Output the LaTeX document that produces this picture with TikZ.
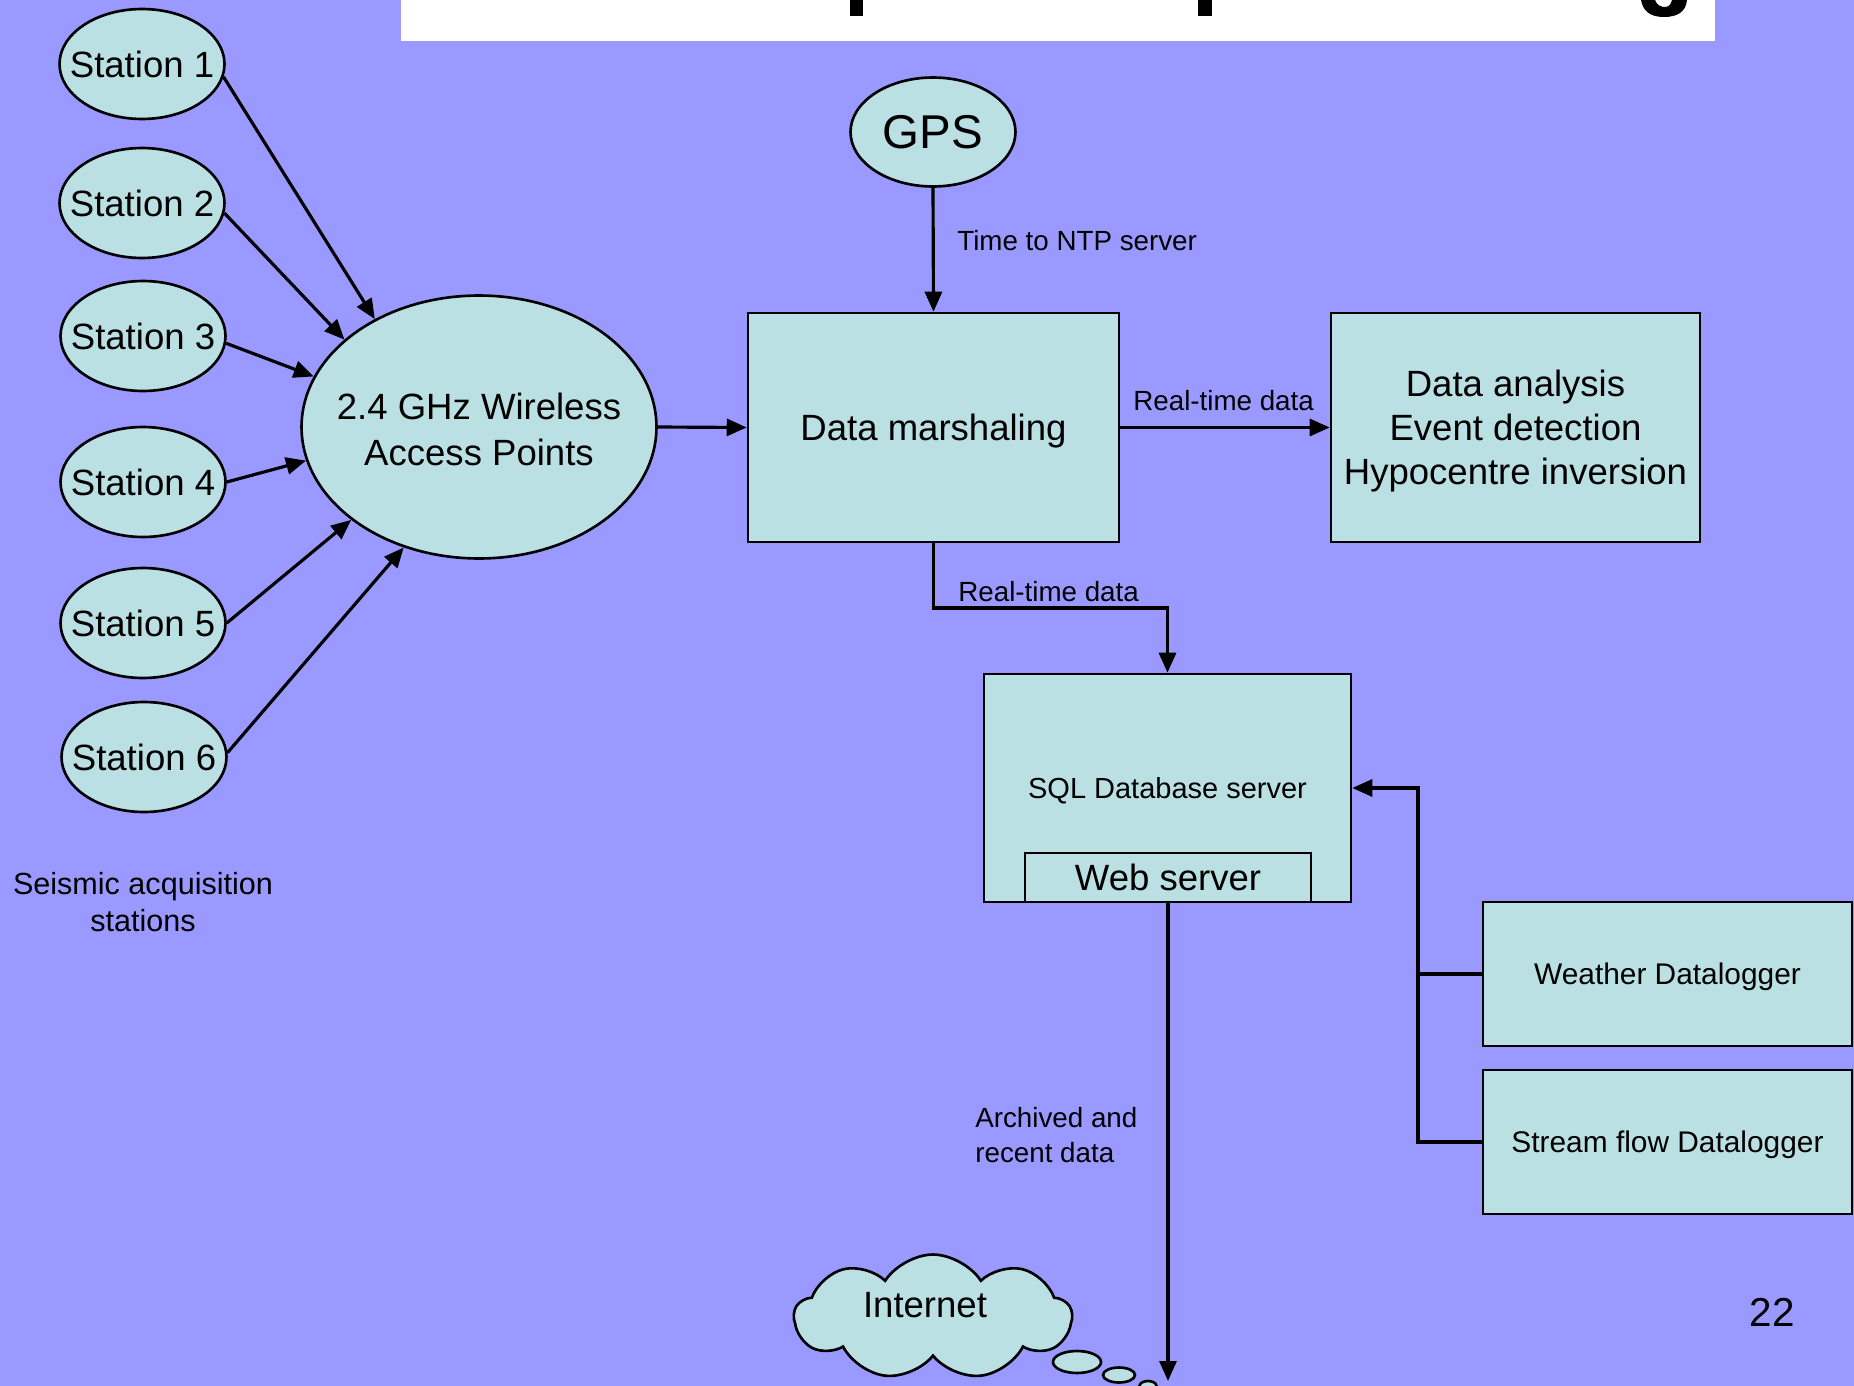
\documentclass[tikz,border=0pt]{standalone}
\usepackage{fontspec}
\setmainfont{Liberation Sans}
\usetikzlibrary{shapes.geometric,shapes.symbols,arrows.meta}
\definecolor{bgc}{RGB}{153,153,255}
\definecolor{boxfill}{RGB}{187,224,227}
\tikzset{
  shp/.style={draw=black, fill=boxfill, line width=1.5pt, inner sep=0pt},
  ell/.style={shp, ellipse},
  bx/.style={shp, rectangle, align=center, text depth=0pt},
  arr/.style={line width=1.8pt, -{Triangle[length=0.4cm,width=0.34cm]}},
  ln/.style={line width=1.8pt},
  big/.style={font=\fontsize{20.8}{25}\selectfont},
  mid/.style={font=\fontsize{17}{21}\selectfont},
  lab/.style={font=\fontsize{15.8}{20}\selectfont, inner sep=0pt},
  station/.style={ell, big, minimum width=3.3cm, minimum height=2.2cm},
}
\newcommand{\zw}[1]{\makebox[0pt]{#1}}
\begin{document}
\begin{tikzpicture}[x=0.02cm,y=-0.02cm]
\useasboundingbox (0,0) rectangle (1854,1386);
\fill[bgc] (0,0) rectangle (1854,1386);
% title bar (cut off)
\fill[white] (401,0) rectangle (1715,41);
\fill[black] (850,0) rectangle (863,16);
\fill[black] (1198,0) rectangle (1212,16);
\fill[black] (1641,0) -- (1655,0) .. controls (1657,6) and (1662,7) .. (1665,7) .. controls (1669,7) and (1671,4) .. (1672,0) -- (1687,0) .. controls (1686,12) and (1677,17) .. (1664,17) .. controls (1650,17) and (1643,11) .. (1641,0) -- cycle;

% stations
\node[station] (s1) at (142,64) {\zw{Station 1}};
\node[station] (s2) at (142,203) {\zw{Station 2}};
\node[station] (s3) at (143,336) {\zw{Station 3}};
\node[station] (s4) at (143,482) {\zw{Station 4}};
\node[station] (s5) at (143,623) {\zw{Station 5}};
\node[station] (s6) at (144,757) {\zw{Station 6}};
\node[font=\fontsize{17.4}{21.5}\selectfont, align=center, inner sep=0pt] (seis) at (143,902) {Seismic acquisition\\stations};

% access points
\node[ell, font=\fontsize{20.8}{26.2}\selectfont, minimum width=7.1cm, minimum height=5.26cm] (ap) at (479,427) {\zw{\raisebox{-0.3cm}[0pt][0pt]{\begin{tabular}{@{}c@{}}2.4 GHz Wireless\\Access Points\end{tabular}}}};

% GPS
\node[ell, font=\fontsize{27}{30}\selectfont, minimum width=3.3cm, minimum height=2.18cm] (gps) at (933,132) {\zw{GPS}};

% boxes
\node[bx, big, minimum width=7.42cm, minimum height=4.58cm] (dm) at (933.5,427.5) {Data marshaling};
\node[bx, big, minimum width=7.38cm, minimum height=4.58cm] (da) at (1515.5,427.5) {Data analysis\\Event detection\\Hypocentre inversion};
\node[bx, font=\fontsize{16.5}{20}\selectfont, minimum width=7.34cm, minimum height=4.56cm] (sql) at (1167.5,788) {SQL Database server};
\node[bx, big, minimum width=5.72cm, minimum height=0.98cm] (web) at (1168,877.5) {Web server};
\node[bx, mid, minimum width=7.38cm, minimum height=2.88cm] (wx) at (1667.5,974) {Weather Datalogger};
\node[bx, mid, minimum width=7.38cm, minimum height=2.88cm] (sf) at (1667.5,1142) {Stream flow Datalogger};

% cloud
\node[cloud, draw=black, fill=boxfill, line width=1.5pt, cloud puffs=9, cloud puff arc=115, cloud ignores aspect, minimum width=5.55cm, minimum height=2.5cm] (cl) at (933,1317) {};
\node[big, inner sep=0pt] (inet) at (925,1305) {Internet};
\draw[fill=boxfill, line width=1.5pt] (1077,1362) ellipse [x radius=24, y radius=11];
\draw[fill=boxfill, line width=1.5pt] (1119,1375) ellipse [x radius=16, y radius=7.5];
\draw[fill=boxfill, line width=1.5pt] (1148,1386) ellipse [x radius=8.5, y radius=5];

% station arrows
\draw[arr] (s1.-9) -- (ap.134);
\draw[arr] (s2.-7) -- (ap.147);
\draw[arr] (s3.-5) -- (ap.163);
\draw[arr] (s4.0) -- (ap.-169);
\draw[arr] (s5.0) -- (ap.-144);
\draw[arr] (s6.3) -- (ap.-122);

% main flow
\draw[arr] (ap.east) -- (dm.west);
\draw[arr] (gps.south) -- (dm.north);
\node[lab, anchor=west] (lntp) at (957,241) {Time to NTP server};
\draw[arr] (dm.east) -- (da.west);
\node[lab, anchor=west] (lrt1) at (1133,401) {Real-time data};
\coordinate (bend) at (933.5,608);
\draw[arr] (dm.south) -- (bend) -| (sql.north);
\node[lab, anchor=west] (lrt2) at (958,592) {Real-time data};

% dataloggers
\coordinate (jn) at (1418,788);
\draw[arr] (wx.west) -| (jn) -- (sql.east);
\draw[ln] (sf.west) -| (jn);

% internet
\coordinate (netend) at (1168,1381);
\draw[arr] (web.south) -- (netend);
\node[lab, anchor=west, align=left] (larch) at (975,1135) {Archived and\\recent data};

\node[font=\fontsize{23}{26}\selectfont, inner sep=0pt] (pg) at (1772,1312) {22};
\end{tikzpicture}
\end{document}
